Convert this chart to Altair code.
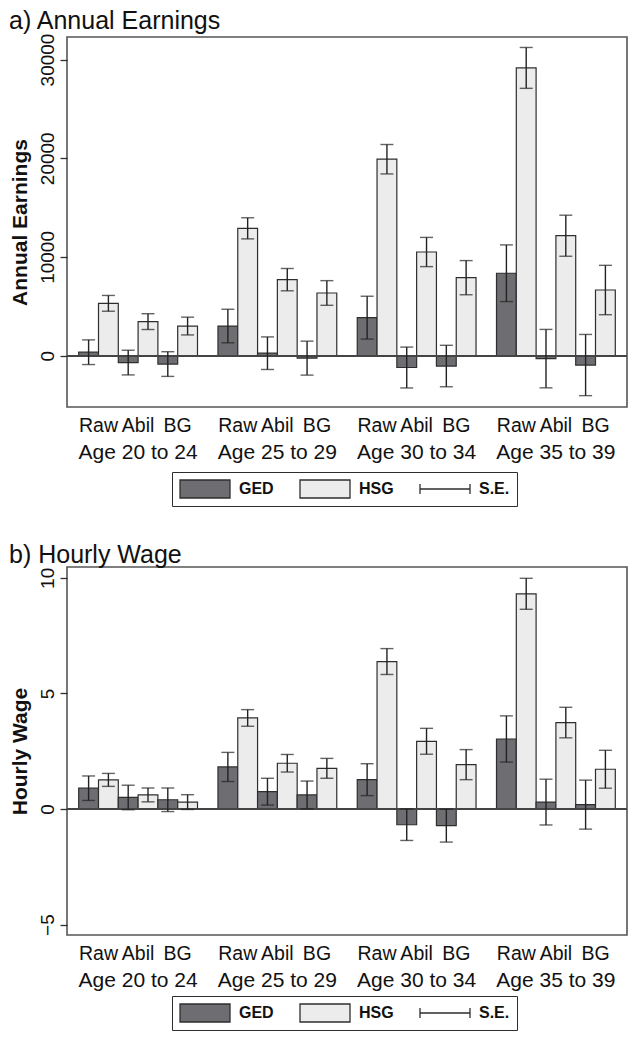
import altair as alt
import pandas as pd

ages = ["Age 20 to 24", "Age 25 to 29", "Age 30 to 34", "Age 35 to 39"]
measures = ["Raw", "Abil", "BG"]
types = ["GED", "HSG"]
legend_items = ["GED", "HSG", "S.E."]

# Annual earnings: value and S.E. per age x measure (Raw, Abil, BG)
earn_ged = [350, -700, -850, 3000, 250, -250, 3850, -1200, -1050, 8350, -300, -950]
earn_ged_se = [1250, 1250, 1250, 1700, 1650, 1720, 2170, 2070, 2100, 2870, 2960, 3100]
earn_hsg = [5300, 3450, 3000, 12900, 7700, 6350, 19900, 10500, 7900, 29150, 12150, 6650]
earn_hsg_se = [800, 800, 900, 1070, 1130, 1250, 1490, 1480, 1730, 2070, 2080, 2500]

# Hourly wage
wage_ged = [0.90, 0.50, 0.40, 1.82, 0.75, 0.61, 1.27, -0.68, -0.72, 3.03, 0.30, 0.19]
wage_ged_se = [0.53, 0.53, 0.51, 0.63, 0.58, 0.60, 0.69, 0.68, 0.71, 1.00, 0.99, 1.06]
wage_hsg = [1.26, 0.61, 0.30, 3.94, 1.98, 1.76, 6.38, 2.93, 1.92, 9.31, 3.74, 1.72]
wage_hsg_se = [0.28, 0.30, 0.32, 0.36, 0.38, 0.43, 0.56, 0.56, 0.65, 0.67, 0.66, 0.82]

earn_ticks = [0, 10000, 20000, 30000]
wage_ticks = [-5, 0, 5, 10]

FONT = "Liberation Sans"
GED_FILL = "#6e6e72"
HSG_FILL = "#ececec"
LINE = "#2e2e2e"
keys = [f"{m}|{t}" for m in measures for t in types]


def build(ged, ged_se, hsg, hsg_se):
    rows = []
    k = 0
    for a in ages:
        for m in measures:
            for t, v, s in (("GED", ged[k], ged_se[k]), ("HSG", hsg[k], hsg_se[k])):
                rows.append({"age": a, "measure": m, "Type": t, "key": f"{m}|{t}",
                             "value": v, "lo": v - s, "hi": v + s})
            k += 1
    return pd.DataFrame(rows)


label_df = pd.DataFrame([{"age": a, "measure": m} for a in ages for m in measures])
legend_df = pd.DataFrame({"Type": legend_items})

SE_PATH = "M-1,-0.2V0.2M-1,0H1M1,-0.2V0.2"
BOX_PATH = "M-1,-0.36H1V0.36H-1Z"

W = 560


def panel(title, ytitle, df, domain, ticks, H, legend_y):
    x_scale = alt.Scale(paddingInner=0.147, paddingOuter=0.084)
    y_scale = alt.Scale(domain=domain, nice=False, zero=False)
    fill_scale = alt.Scale(domain=legend_items, range=[GED_FILL, HSG_FILL, "transparent"])
    x_enc = alt.X("age:N", sort=ages, scale=x_scale,
                  axis=alt.Axis(title=None, domain=False, ticks=False, labelAngle=0,
                                labelFontSize=21, labelPadding=34, labelColor="#111"))
    base = alt.Chart(df)
    bars = base.mark_bar(stroke=LINE, strokeWidth=1.2).encode(
        x=x_enc,
        xOffset=alt.XOffset("key:N", sort=keys, scale=alt.Scale(paddingInner=0, paddingOuter=0)),
        y=alt.Y("value:Q", scale=y_scale,
                axis=alt.Axis(title=ytitle, values=ticks, grid=False, domain=False, format="d",
                              tickSize=7, tickColor=LINE, tickWidth=1.3,
                              labelAngle=270, labelAlign="center", labelBaseline="bottom",
                              labelPadding=3, labelFontSize=19, labelColor="#111",
                              labelExpr="replace(datum.label, '-', '\u2212')",
                              titleFontSize=21, titleFontWeight="bold", titlePadding=8,
                              titleColor="#111")),
        y2=alt.datum(0),
        fill=alt.Fill("Type:N", scale=fill_scale),
    )
    legend_layer = alt.Chart(legend_df).transform_filter("false").mark_point(
        filled=True, size=2500, strokeWidth=1.3).encode(
        fill=alt.Fill("Type:N", scale=fill_scale,
                      legend=alt.Legend(
                          title=None, orient="none", legendX=105, legendY=legend_y,
                          direction="horizontal", clipHeight=20,
                          symbolSize=2500, labelFontSize=16, labelFontWeight="bold",
                          labelColor="#111", labelOffset=8, columnPadding=25,
                          padding=7, strokeColor=LINE,
                          symbolStrokeColor=LINE, symbolStrokeWidth=1.3)),
        shape=alt.Shape("Type:N", scale=alt.Scale(domain=legend_items,
                                                  range=[BOX_PATH, BOX_PATH, SE_PATH])),
        stroke=alt.Stroke("Type:N", scale=alt.Scale(domain=legend_items,
                                                    range=[LINE, LINE, LINE])),
    )
    zero = alt.Chart(df).mark_rule(color="#444", strokeWidth=1.5).encode(y=alt.datum(0))
    err = base.mark_rule(color="#222", strokeWidth=1.4).encode(
        x=alt.X("age:N", sort=ages),
        xOffset=alt.XOffset("key:N", sort=keys),
        y="lo:Q", y2="hi:Q")
    caps = base.transform_fold(["lo", "hi"], as_=["end", "v"]).mark_tick(
        color="#222", thickness=1.4, size=13, orient="horizontal").encode(
        x=alt.X("age:N", sort=ages),
        xOffset=alt.XOffset("key:N", sort=keys),
        y="v:Q")
    labels = alt.Chart(label_df).mark_text(fontSize=19.5, baseline="alphabetic", color="#111").encode(
        x=alt.X("age:N", sort=ages),
        xOffset=alt.XOffset("measure:N", sort=measures, scale=alt.Scale(type="point", padding=0.5)),
        y=alt.value(H + 25),
        text="measure:N")
    return alt.layer(bars, zero, err, caps, labels, legend_layer).resolve_scale(
        xOffset="independent").properties(
        width=W, height=H,
        title=alt.TitleParams(title, anchor="start", frame="bounds", fontSize=25,
                              fontWeight="normal", color="#111", offset=-1))


pa = panel("a) Annual Earnings", "Annual Earnings", build(earn_ged, earn_ged_se, earn_hsg, earn_hsg_se),
           [-5200, 32280], earn_ticks, 370, 435)
pb = panel("b) Hourly Wage", "Hourly Wage", build(wage_ged, wage_ged_se, wage_hsg, wage_hsg_se),
           [-5.45, 10.47], wage_ticks, 368, 429)

chart = alt.vconcat(pa, pb, spacing=34).resolve_scale(
    fill="independent", shape="independent", stroke="independent").configure(
    font=FONT, padding={"left": 0, "top": 0, "right": 0, "bottom": 0}
).configure_view(stroke="#555", strokeWidth=1.6)

chart.save("out.html", embed_options={"renderer": "svg", "actions": False})
